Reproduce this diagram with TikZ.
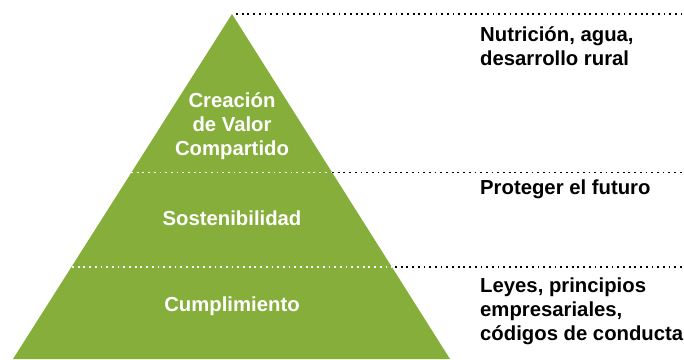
\documentclass[tikz,border=0pt]{standalone}
\usepackage{fontspec}
\setmainfont{Liberation Sans}
\usetikzlibrary{positioning}
\definecolor{leafgreen}{RGB}{134,174,58}
\tikzset{
  dotline/.style={line width=1.8pt, dash pattern=on 1.8pt off 3.9pt},
  levellabel/.style={text=white, font=\bfseries\fontsize{20.3}{24}\selectfont, align=center, inner sep=0pt},
  sidelabel/.style={text=black, font=\bfseries\fontsize{20.3}{24}\selectfont, align=left, anchor=west, inner sep=0pt}
}
\begin{document}
\begin{tikzpicture}[x=1pt,y=-1pt]
\useasboundingbox (0,0) rectangle (684,359);

% pyramid
\coordinate (apex) at (232,14);
\coordinate (baseL) at (13,359);
\coordinate (baseR) at (450,359);
\fill[leafgreen] (apex) -- (baseR) -- (baseL) -- cycle;

% level borders
\coordinate (midL) at (131,172.5);
\coordinate (midR) at (332,172.5);
\coordinate (lowL) at (72,267);
\coordinate (lowR) at (392,267);
\coordinate (topE) at (684,14);
\coordinate (midE) at (684,172.5);
\coordinate (lowE) at (684,267);

\draw[dotline, white] (midL) -- (midR);
\draw[dotline, white] (lowL) -- (lowR);
\draw[dotline] ([xshift=4pt]apex) -- (topE);
\draw[dotline] (midR) -- (midE);
\draw[dotline] ([xshift=3pt]lowR) -- (lowE);

% labels inside
\node[levellabel] (valor) at (232,126) {Creación\\de Valor\\Compartido};
\node[levellabel] (sosten) at (232,218) {Sostenibilidad};
\node[levellabel] (cumpl) at (232,306) {Cumplimiento};

% labels right
\node[sidelabel] (nutri) at (480,46) {Nutrición, agua,\\desarrollo rural};
\node[sidelabel] (futuro) at (480,189) {Proteger el futuro};
\node[sidelabel] (leyes) at (480,311) {Leyes, principios\\empresariales,\\códigos de conducta};

\end{tikzpicture}
\end{document}
